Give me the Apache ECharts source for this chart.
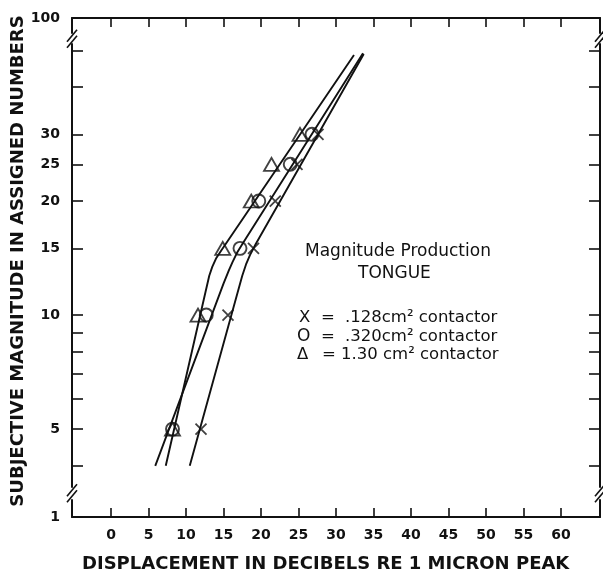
<!DOCTYPE html>
<html><head><meta charset="utf-8">
<script src="https://cdn.jsdelivr.net/npm/echarts@6/dist/echarts.min.js"></script>
<style>html,body{margin:0;padding:0;background:#fff}#c{width:603px;height:575px}</style>
</head><body><div id="c"></div>
<script>
// Measured points: magnitude (assigned number) vs displacement (dB re 1 micron peak)
const magnitudes = [5, 10, 15, 20, 25, 30];
const db128 = [12.0, 15.6, 19.0, 21.9, 24.8, 27.6];   // X  .128 cm² contactor
const db320 = [8.2, 12.7, 17.2, 19.7, 23.9, 26.8];    // O  .320 cm² contactor
const db130 = [8.2, 11.6, 14.9, 18.7, 21.4, 25.2];    // Δ  1.30 cm² contactor

// Hand-fitted curves
const fit128Db  = [10.5, 16.9, 17.5, 18.0, 18.6, 19.3, 33.7];
const fit128Mag = [4.0, 11.5, 12.7, 13.6, 14.5, 15.4, 48.9];
const fit320Db  = [5.9, 15.0, 15.7, 16.2, 16.8, 17.6, 33.6];
const fit320Mag = [4.0, 12.1, 13.1, 13.8, 14.6, 15.5, 49.1];
const fit130Db  = [7.3, 12.6, 13.1, 13.5, 14.0, 14.7, 32.4];
const fit130Mag = [4.0, 11.5, 12.7, 13.4, 14.1, 14.8, 48.6];

const xTickValues = [0, 5, 10, 15, 20, 25, 30, 35, 40, 45, 50, 55, 60];
const yTickValues = [1, 4, 5, 6, 7, 8, 9, 10, 15, 20, 25, 30, 40, 50, 100];
const yLabelValues = [1, 5, 10, 15, 20, 25, 30, 100];
const yBreakLow = [1.11, 3.52];
const yBreakHigh = [51.9, 91.2];

const INK = '#111';
const FONT = 'DejaVu Sans';
const zip = (a, b) => a.map((v, i) => [v, b[i]]);

const chart = echarts.init(document.getElementById('c'), null, {renderer: 'canvas'});

const xBase = {
  type: 'value', min: -5.2, max: 65.2,
  axisLine: {show: true, onZero: false, lineStyle: {color: INK, width: 2}},
  axisTick: {show: true, inside: true, length: 9, customValues: xTickValues, lineStyle: {color: INK, width: 1.6}},
  splitLine: {show: false}
};
const yBase = {
  type: 'log', logBase: 10, min: 1, max: 100,
  breaks: [
    {start: yBreakLow[0], end: yBreakLow[1], gap: '2.6%'},
    {start: yBreakHigh[0], end: yBreakHigh[1], gap: '2.2%'}
  ],
  breakArea: {show: false},
  axisLine: {show: true, onZero: false, lineStyle: {color: INK, width: 2}},
  axisTick: {show: true, inside: true, length: 11, customValues: yTickValues, lineStyle: {color: INK, width: 1.6}},
  splitLine: {show: false}, minorTick: {show: false}
};

const option = {
  animation: false,
  backgroundColor: '#fff',
  grid: {left: 72, right: 3, top: 18, bottom: 58, containLabel: false},
  xAxis: [
    Object.assign({}, xBase, {position: 'bottom',
      axisLabel: {customValues: xTickValues, margin: 11, color: INK, fontSize: 14, fontWeight: 'bold', fontFamily: FONT}}),
    Object.assign({}, xBase, {position: 'top', axisLabel: {show: false}})
  ],
  yAxis: [
    Object.assign({}, yBase, {position: 'left',
      axisLabel: {customValues: yLabelValues, margin: 12, color: INK, fontSize: 14, fontWeight: 'bold', fontFamily: FONT}}),
    Object.assign({}, yBase, {position: 'right', axisLabel: {show: false}})
  ],
  series: [
    {type: 'line', data: zip(fit128Db, fit128Mag), showSymbol: false, silent: true, lineStyle: {color: INK, width: 1.9}},
    {type: 'line', data: zip(fit320Db, fit320Mag), showSymbol: false, silent: true, lineStyle: {color: INK, width: 1.9}},
    {type: 'line', data: zip(fit130Db, fit130Mag), showSymbol: false, silent: true, lineStyle: {color: INK, width: 1.9}},
    {type: 'scatter', name: '.128', data: zip(db128, magnitudes), symbol: 'path://M0,0L10,10M10,0L0,10', symbolSize: 11,
      itemStyle: {color: 'none', borderColor: INK, borderWidth: 1.8}, z: 5},
    {type: 'scatter', name: '.320', data: zip(db320, magnitudes), symbol: 'circle', symbolSize: 13,
      itemStyle: {color: 'rgba(0,0,0,0)', borderColor: INK, borderWidth: 1.9}, z: 5},
    {type: 'scatter', name: '1.30', data: zip(db130, magnitudes), symbol: 'triangle', symbolSize: [15, 13],
      itemStyle: {color: 'rgba(0,0,0,0)', borderColor: INK, borderWidth: 1.8}, z: 5}
  ]
};
chart.setOption(option);

// Titles, legend text and axis-break marks
function addGraphics() {
  const g = [];
  const txt = (left, top, text, size, weight) => ({
    type: 'text', left: left, top: top, z: 10,
    style: {text: text, fill: INK, font: (weight || 'normal') + ' ' + size + 'px ' + FONT}
  });
  g.push(txt(305, 243, 'Magnitude Production', 17));
  g.push(txt(358, 265, 'TONGUE', 17));
  g.push(txt(299, 309, 'X', 16.5));
  g.push(txt(297, 328, 'O', 17));
  g.push(txt(297, 346, 'Δ', 16.5));
  g.push(txt(321, 309, '=', 16.5));
  g.push(txt(321, 328, '=', 16.5));
  g.push(txt(322, 346, '=', 16.5));
  g.push(txt(345, 309, '.128cm² contactor', 16.5));
  g.push(txt(345, 328, '.320cm² contactor', 16.5));
  g.push(txt(341, 346, '1.30 cm² contactor', 16.5));
  g.push({type: 'text', left: 82, top: 555, z: 10,
    style: {text: 'DISPLACEMENT IN DECIBELS RE 1 MICRON PEAK', fill: INK, font: 'bold 18px ' + FONT}});
  g.push({type: 'text', x: 18.5, y: 261, rotation: Math.PI / 2, z: 10,
    style: {text: 'SUBJECTIVE MAGNITUDE IN ASSIGNED NUMBERS', fill: INK, font: 'bold 18px ' + FONT,
      align: 'center', verticalAlign: 'middle'}});

  const xl = chart.convertToPixel({xAxisIndex: 0}, -5.2);
  const xr = chart.convertToPixel({xAxisIndex: 0}, 65.2);
  [yBreakLow, yBreakHigh].forEach(b => {
    const y1 = chart.convertToPixel({yAxisIndex: 0}, b[0]);
    const y2 = chart.convertToPixel({yAxisIndex: 0}, b[1]);
    const ym = (y1 + y2) / 2;
    [xl, xr].forEach(x => {
      g.push({type: 'rect', z: 20, shape: {x: x - 2, y: ym - 3, width: 4, height: 6}, style: {fill: '#fff'}});
      [-3, 3].forEach(off => {
        g.push({type: 'line', z: 21, shape: {x1: x - 5, y1: ym + off + 6, x2: x + 5, y2: ym + off - 6},
          style: {stroke: INK, lineWidth: 1.6}});
      });
    });
  });
  chart.setOption({graphic: g});
}
addGraphics();
</script>
</body></html>
